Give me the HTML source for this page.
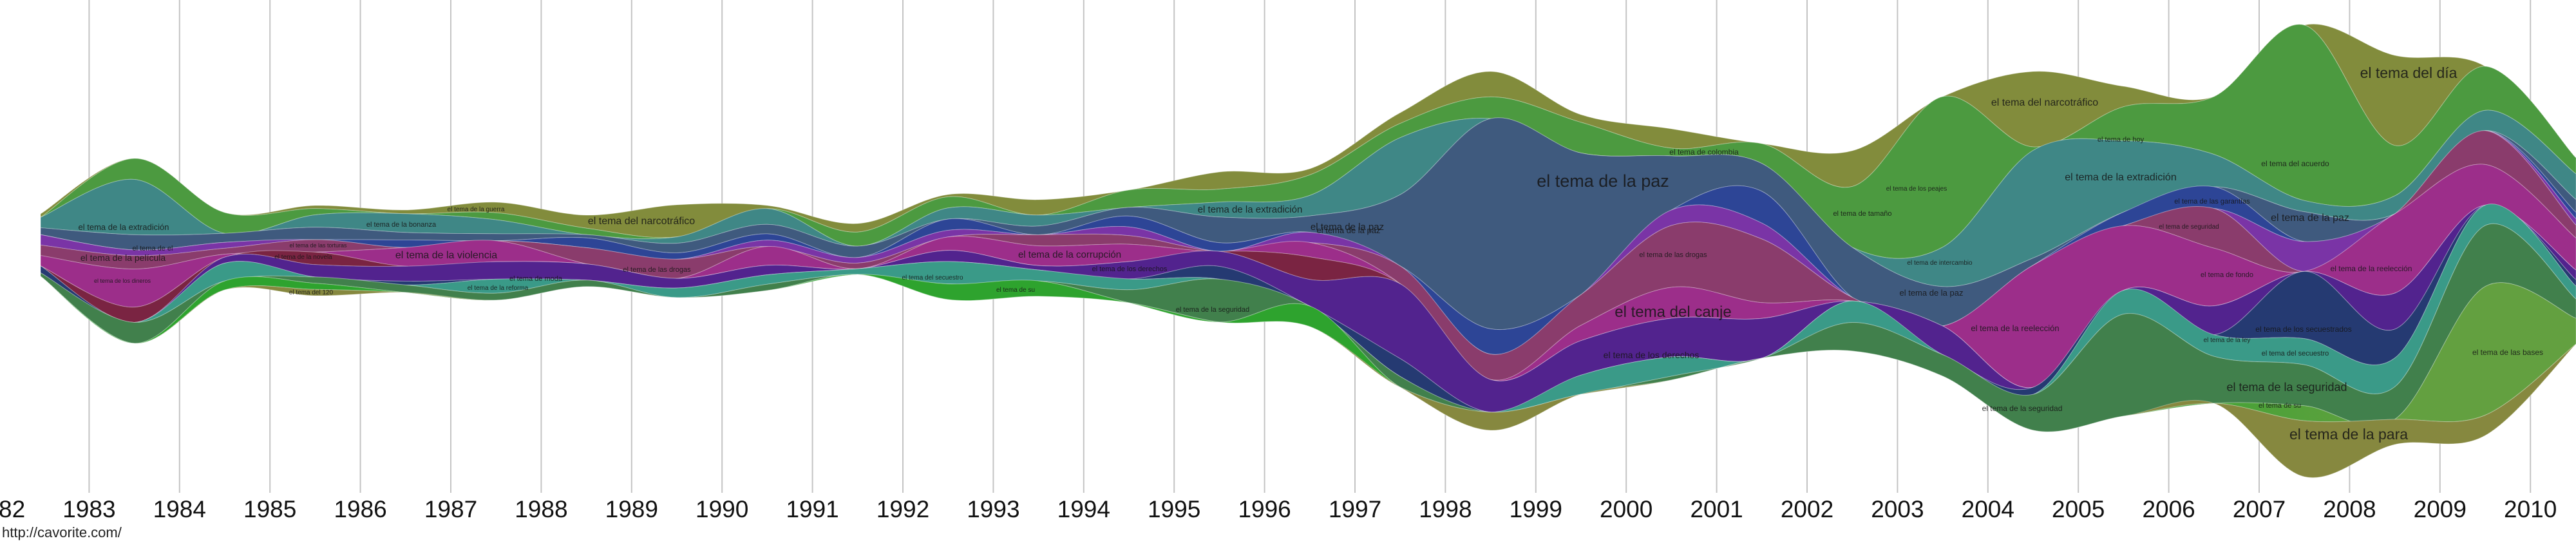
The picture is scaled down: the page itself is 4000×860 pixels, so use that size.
<!DOCTYPE html>
<html><head><meta charset="utf-8"><style>
html,body{margin:0;padding:0;background:#fff;width:4000px;height:860px;overflow:hidden}
svg{display:block}
text{font-family:"Liberation Sans",sans-serif;}
</style></head><body>
<svg id="s" width="4000" height="860" viewBox="0 0 4000 860" xmlns="http://www.w3.org/2000/svg">
<g id="grid"></g><g id="bands"></g>
<g id="labels" fill="#151515" fill-opacity="0.85" text-anchor="middle">
<text x="2489" y="290" font-size="27">el tema de la paz</text>
<text x="2598" y="492" font-size="24">el tema del canje</text>
<text x="3740" y="121" font-size="23">el tema del día</text>
<text x="3647" y="682" font-size="23">el tema de la para</text>
<text x="3551" y="607" font-size="18">el tema de la seguridad</text>
<text x="3293" y="280" font-size="16">el tema de la extradición</text>
<text x="3175" y="164" font-size="16">el tema del narcotráfico</text>
<text x="3587" y="343" font-size="16">el tema de la paz</text>
<text x="3564" y="258" font-size="12">el tema del acuerdo</text>
<text x="3129" y="514" font-size="13">el tema de la reelección</text>
<text x="3682" y="421" font-size="12">el tema de la reelección</text>
<text x="3577" y="515" font-size="12">el tema de los secuestrados</text>
<text x="3894" y="551" font-size="12">el tema de las bases</text>
<text x="3140" y="638" font-size="12">el tema de la seguridad</text>
<text x="2564" y="556" font-size="14">el tema de los derechos</text>
<text x="2646" y="240" font-size="12">el tema de colombia</text>
<text x="2094" y="362" font-size="13">el tema de la paz</text>
<text x="2999" y="459" font-size="13">el tema de la paz</text>
<text x="3435" y="316" font-size="11">el tema de las garantías</text>
<text x="3458" y="430" font-size="11">el tema de fondo</text>
<text x="2598" y="399" font-size="11">el tema de las drogas</text>
<text x="3399" y="355" font-size="10">el tema de seguridad</text>
<text x="3564" y="552" font-size="11">el tema del secuestro</text>
<text x="3540" y="633" font-size="11">el tema de su</text>
<text x="2892" y="335" font-size="11">el tema de tamaño</text>
<text x="3012" y="411" font-size="10">el tema de intercambio</text>
<text x="3458" y="531" font-size="10">el tema de la ley</text>
<text x="3293" y="220" font-size="11">el tema de hoy</text>
<text x="2976" y="296" font-size="10">el tema de los peajes</text>
<text x="192" y="357" font-size="13">el tema de la extradición</text>
<text x="191" y="405" font-size="14">el tema de la película</text>
<text x="693" y="401" font-size="16">el tema de la violencia</text>
<text x="996" y="348" font-size="16">el tema del narcotráfico</text>
<text x="190" y="439" font-size="9">el tema de los dineros</text>
<text x="623" y="352" font-size="11">el tema de la bonanza</text>
<text x="494" y="384" font-size="9">el tema de las torturas</text>
<text x="471" y="402" font-size="10">el tema de la novela</text>
<text x="1020" y="422" font-size="11">el tema de las drogas</text>
<text x="832" y="436" font-size="11">el tema de moda</text>
<text x="739" y="328" font-size="10">el tema de la guerra</text>
<text x="773" y="450" font-size="10">el tema de la reforma</text>
<text x="483" y="457" font-size="10">el tema del 120</text>
<text x="237" y="389" font-size="11">el tema de el</text>
<text x="1661" y="400" font-size="15">el tema de la corrupción</text>
<text x="1941" y="330" font-size="15">el tema de la extradición</text>
<text x="2092" y="357" font-size="15">el tema de la paz</text>
<text x="1883" y="484" font-size="11">el tema de la seguridad</text>
<text x="1754" y="421" font-size="11">el tema de los derechos</text>
<text x="1448" y="434" font-size="10">el tema del secuestro</text>
<text x="1577" y="453" font-size="10">el tema de su</text>
</g>
<g id="axis" fill="#111" font-size="37" text-anchor="middle"></g>
<text x="3" y="834" font-size="22" fill="#222">http://cavorite.com/</text>
</svg>
<script>
var NS="http://www.w3.org/2000/svg";
function el(n,a,p){var e=document.createElementNS(NS,n);for(var k in a)e.setAttribute(k,a[k]);p.appendChild(e);return e;}
var grid=document.getElementById('grid'),axis=document.getElementById('axis');
for(var y=1982;y<=2010;y++){var x=-2+(y-1982)*140.4;
 el('line',{x1:x,x2:x,y1:0,y2:765,stroke:'#c4c4c4','stroke-width':2},grid);
 var t=el('text',{x:x,y:803},axis);t.textContent=y;}
var X=[];for(var i=0;i<29;i++)X.push(-2+(i+0.5)*140.4);X[0]=63;X[28]=4000;
var T=[332,246,330,319,326,314,334,318,319,347,302,310,295,267,262,175,111,178,200,223,234,150,111,134,150,39,86,103,245];
var B=[429,533,450,459,454,466,445,462,451,426,465,460,470,500,507,601,668,612,590,556,545,584,668,646,626,740,690,676,534];
var L=[
['#828c3c',[1,0,0,1,1,3,4,10,1,3,1,7,0,8,3,3,7,2,5,0,10,0,21,6,0,0,25,0,0]],
['#4c9a40',[0,11,7,2,0,2,2,0,0,5,5,0,8,6,10,4,6,8,2,5,17,42,1,10,16,47,14,13,5]],
['#3f8786',[3,29,0,4,5,4,0,2,5,0,5,5,0,7,10,16,0,0,0,0,0,11,30,21,9,3,5,6,8]],
['#3f5a7e',[2,8,3,4,2,2,1,3,3,4,0,4,4,12,8,20,58,37,14,7,14,11,2,0,0,8,0,0,4]],
['#2d4596',[0,0,0,0,2,0,3,2,2,0,5,0,5,4,0,0,7,0,0,8,0,0,0,4,6,0,0,0,2]],
['#7a34a6',[3,3,2,0,0,0,0,0,2,2,3,0,4,0,5,0,0,0,4,4,0,0,0,0,0,8,0,0,2]],
['#8a3c6c',[3,7,2,4,0,0,5,6,0,2,0,5,4,0,0,5,7,8,16,16,1,0,0,0,11,0,0,10,4]],
['#9c2e8a',[3,20,1,0,5,6,0,0,6,0,6,9,8,0,7,0,0,4,8,4,0,0,34,19,16,0,22,12,10]],
['#7a2442',[0,8,0,4,0,0,0,0,0,0,0,0,0,0,11,0,0,0,0,0,0,0,0,0,0,0,0,0,0]],
['#52238e',[0,0,2,4,4,5,5,3,3,0,5,2,8,7,13,21,9,9,10,10,0,8,0,0,8,0,10,0,3]],
['#253a72',[2,0,0,0,1,0,0,0,0,0,0,0,0,6,0,5,0,0,0,0,0,0,2,0,0,18,8,0,2]],
['#3a9a88',[0,0,6,0,0,4,0,3,3,2,10,5,5,0,0,0,0,5,5,0,6,0,0,7,6,7,8,6,4]],
['#41804c',[1,11,0,2,2,2,2,0,2,0,0,0,6,20,0,3,0,0,1,0,8,6,10,30,13,11,9,18,6]],
['url(#lg)',[0,0,3,2,0,0,0,0,0,0,7,7,0,0,10,0,0,0,0,0,0,0,0,0,0,4,0,38,8]],
['#86883f',[0,0,0,2,0,0,0,0,0,0,0,0,0,0,0,0,5,0,0,0,0,0,0,0,0,15,7,6,0]]];
var svg=document.getElementById('s');
var defs=el('defs',{},svg);
var lg=el('linearGradient',{id:'lg',gradientUnits:'userSpaceOnUse',x1:0,y1:0,x2:4000,y2:0},defs);
el('stop',{offset:'0.8','stop-color':'#2ea32e'},lg);el('stop',{offset:'0.93','stop-color':'#63a040'},lg);
// boundaries
var bnd=[];var n=29;
var W=[];for(var i=0;i<n;i++){var s=0;L.forEach(function(l){s+=l[1][i]});W.push(s);}
for(var k=0;k<=L.length;k++){var pts=[];for(var i=0;i<n;i++){var c=0;for(var j=0;j<k;j++)c+=L[j][1][i];
 pts.push([X[i],T[i]+c/W[i]*(B[i]-T[i])]);}bnd.push(pts);}
function seg(p){var d='';for(var i=0;i<p.length-1;i++){var p0=p[i-1]||p[i],p1=p[i],p2=p[i+1],p3=p[i+2]||p2;
 d+='C'+(p1[0]+(p2[0]-p0[0])/6).toFixed(1)+','+(p1[1]+(p2[1]-p0[1])/6).toFixed(1)+' '+(p2[0]-(p3[0]-p1[0])/6).toFixed(1)+','+(p2[1]-(p3[1]-p1[1])/6).toFixed(1)+' '+p2[0].toFixed(1)+','+p2[1].toFixed(1);}return d;}
var bg=document.getElementById('bands');
for(var k=0;k<L.length;k++){var a=bnd[k],b=bnd[k+1].slice().reverse();
 var d='M'+a[0][0]+','+a[0][1]+seg(a)+'L'+b[0][0]+','+b[0][1]+seg(b)+'Z';
 el('path',{d:d,fill:L[k][0],stroke:'rgba(255,255,255,0.3)','stroke-width':1},bg);}
</script>
</body></html>
